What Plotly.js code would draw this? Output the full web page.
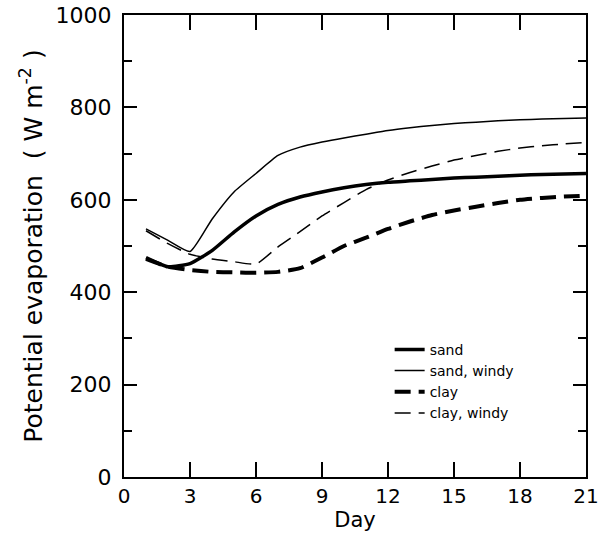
<!DOCTYPE html>
<html>
<head>
<meta charset="utf-8">
<script src="https://cdn.plot.ly/plotly-3.0.1.min.js"></script>
<style>html,body{margin:0;padding:0;background:#fff;}#chart{width:600px;height:537px;}</style>
</head>
<body>
<div id="chart"></div>
<script>
const days = [1,2,3,4,5,6,7,8,9,10,11,12,13,14,15,16,17,18,19,20,21];
const sand = [475,455,462,490,530,565,590,606,617,626,633,638,641,644,647,649,651,653,655,656,657];
const sandWindy = [537,512,488,558,617,657,696,714,725,734,742,750,756,761,765,768,771,773,775,776,777];
const clay = [472,455,448,444,443,442,444,452,475,500,518,537,553,567,577,585,593,600,604,607,609];
const clayWindy = [533,505,482,472,466,461,498,531,565,594,622,643,659,673,686,696,705,712,717,721,724];
const xTicks = [0,3,6,9,12,15,18,21];
const yTicks = [0,200,400,600,800,1000];
const seriesNames = ["sand","sand, windy","clay","clay, windy"];

const traces = [
  {x: days, y: sand, name: seriesNames[0], mode: "lines", line: {color: "#000", width: 3.5, shape: "spline", smoothing: 0.5}},
  {x: days, y: sandWindy, name: seriesNames[1], mode: "lines", line: {color: "#000", width: 1.5, shape: "spline", smoothing: 0.5}},
  {x: days, y: clay, name: seriesNames[2], mode: "lines", line: {color: "#000", width: 4, dash: "16px,8px", shape: "spline", smoothing: 0.5}},
  {x: days, y: clayWindy, name: seriesNames[3], mode: "lines", line: {color: "#000", width: 1.5, dash: "16px,8px", shape: "spline", smoothing: 0.5}}
];

const font = {family: "DejaVu Sans, sans-serif", color: "#000"};
const layout = {
  width: 600, height: 537,
  margin: {l: 124, r: 14, t: 15, b: 60},
  paper_bgcolor: "#fff", plot_bgcolor: "#fff",
  font: Object.assign({}, font, {size: 20}),
  showlegend: true,
  legend: {x: 0.575, y: 0.31, xanchor: "left", yanchor: "top", bgcolor: "rgba(0,0,0,0)",
           font: Object.assign({}, font, {size: 14}), tracegroupgap: 0},
  xaxis: {
    range: [0, 21], tickvals: xTicks, ticktext: xTicks.map(String),
    ticks: "inside", ticklen: 15, tickwidth: 2, tickcolor: "#000",
    showline: true, linecolor: "#000", linewidth: 2, mirror: "allticks",
    showgrid: false, zeroline: false,
    tickfont: Object.assign({}, font, {size: 20}),
    title: {text: "Day", font: Object.assign({}, font, {size: 21}), standoff: 0}
  },
  yaxis: {
    range: [0, 1000], tickvals: yTicks, ticktext: yTicks.map(String),
    ticks: "inside", ticklen: 13, tickwidth: 2, tickcolor: "#000",
    minor: {dtick: 100, ticks: "inside", ticklen: 8, tickwidth: 2, tickcolor: "#000", showgrid: false},
    showline: true, linecolor: "#000", linewidth: 2, mirror: "allticks",
    showgrid: false, zeroline: false,
    ticklabelstandoff: 6,
    tickfont: Object.assign({}, font, {size: 22}),
    title: {text: "Potential evaporation  ( W m<sup>-2</sup> )", font: Object.assign({}, font, {size: 25}), standoff: 6}
  }
};

Plotly.newPlot("chart", traces, layout, {staticPlot: true, displayModeBar: false});
</script>
</body>
</html>
